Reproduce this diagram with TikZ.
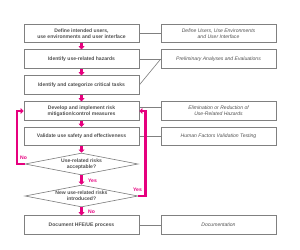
\documentclass[tikz,border=0pt]{standalone}
\usepackage{fontspec}
\setmainfont{Liberation Sans}
\usetikzlibrary{arrows.meta,shapes.geometric,positioning,calc}
\definecolor{pinkline}{RGB}{230,0,126}
\definecolor{boxgray}{RGB}{128,128,128}
\definecolor{textgray}{RGB}{80,80,80}

\begin{document}
\begin{tikzpicture}[
    x=0.03333cm, y=-0.03333cm,
    step box/.style={draw=boxgray, line width=0.6pt, minimum width=3.83cm, minimum height=0.62cm, inner sep=0pt, align=center, text=textgray, font=\fontsize{4.8}{5.9}\selectfont\bfseries},
    note box/.style={draw=boxgray, line width=0.6pt, minimum width=3.83cm, minimum height=0.62cm, inner sep=0pt, align=center, text=textgray, font=\fontsize{4.8}{5.9}\selectfont\itshape},
    decision/.style={draw=boxgray, line width=0.6pt, diamond, aspect=5, minimum width=3.77cm, minimum height=0.73cm, inner sep=0pt, align=center, text=textgray, font=\fontsize{4.8}{5.9}\selectfont\bfseries},
    pk/.style={-{Triangle[length=3pt, width=5.5pt]}, line width=2.4pt, draw=pinkline},
    loop/.style={-{Triangle[length=3pt, width=5.5pt]}, line width=2.4pt, draw=pinkline, line join=miter},
    link/.style={draw=boxgray, line width=0.6pt},
    ans/.style={text=pinkline, font=\fontsize{4.8}{5.9}\selectfont\bfseries, inner sep=0pt}
]
\useasboundingbox (0,0) rectangle (300,249);

\node[step box] (users) at (81.5,33.5) {Define intended users,\\use environments and user interface};
\node[step box] (hazards) at (81.5,59) {Identify use-related hazards};
\node[step box] (tasks) at (81.5,85) {Identify and categorize critical tasks};
\node[step box] (mitig) at (81.5,111) {Develop and implement risk\\mitigation/control measures};
\node[step box] (valid) at (81.5,136.5) {Validate use safety and effectiveness};
\node[decision] (accept) at (81.5,164) {Use-related risks\\acceptable?};
\node[decision] (newrisk) at (81.5,196) {New use-related risks\\introduced?};
\node[step box] (docu) at (81.5,225) {Document HFE/UE process};

\node[note box] (n1) at (218.5,33.5) {Define Users, Use Environments\\and User Interface};
\node[note box] (n2) at (218.5,59) {Preliminary Analyses and Evaluations};
\node[note box] (n3) at (218.5,111) {Elimination or Reduction of\\Use-Related Hazards};
\node[note box] (n4) at (218.5,136.5) {Human Factors Validation Testing};
\node[note box] (n5) at (218.5,225) {Documentation};

\draw[link] (users) -- (n1);
\draw[link] (hazards) -- (n2);
\draw[link] (tasks.east) -- (n2.west);
\draw[link] ([yshift=3.5pt]mitig.east) -- ([yshift=3.5pt]n3.west);
\draw[link] (valid) -- (n4);
\draw[link] (docu) -- (n5);

\draw[pk] (users) -- (hazards);
\draw[pk] (hazards) -- (tasks);
\draw[pk] (tasks) -- (mitig);
\draw[pk] (mitig) -- (valid);
\draw[pk] (valid) -- (accept);
\draw[pk] (accept) -- (newrisk);
\draw[pk] (newrisk) -- (docu);

\draw[loop] (accept.west) -- ++(-7.5,0) |- (mitig.west);
\draw[loop] (newrisk.east) -- ++(7,0) |- (mitig.east);

\node[ans] (no1) at (23.5,158) {No};
\node[ans] (yes1) at (92.5,181) {Yes};
\node[ans] (yes2) at (137.5,190) {Yes};
\node[ans] (no2) at (91.5,212) {No};
\end{tikzpicture}
\end{document}
